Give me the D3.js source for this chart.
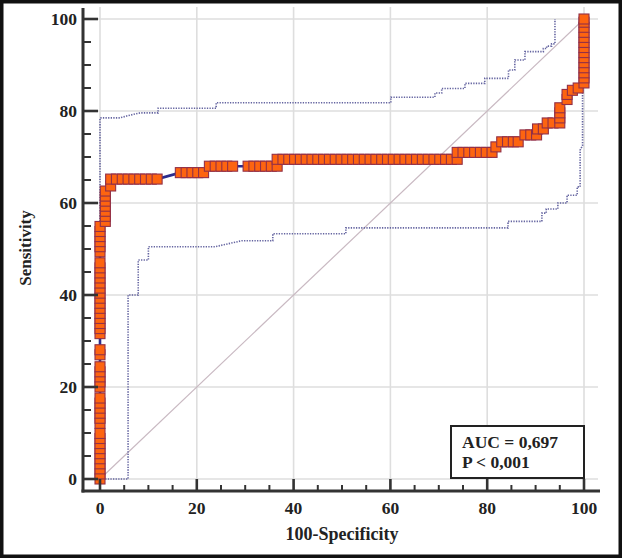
<!DOCTYPE html>
<html>
<head>
<meta charset="utf-8">
<script src="https://cdn.jsdelivr.net/npm/d3@7"></script>
<style>
  html, body { margin: 0; padding: 0; background: #fff; }
  svg { display: block; }
  text { font-family: "Liberation Serif", "Times New Roman", serif; font-weight: bold; fill: #222; }
</style>
</head>
<body>
<svg id="chart" width="622" height="558"></svg>
<script>
// ---- Data ----
const xTicks = [0, 20, 40, 60, 80, 100];
const yTicks = [0, 20, 40, 60, 80, 100];
const minorTicks = [0,5,10,15,20,25,30,35,40,45,50,55,60,65,70,75,80,85,90,95,100];

// ROC points: [100-Specificity, Sensitivity]
const rocPoints = [
  [0,0],[0,1.1],[0,2.2],[0,3.3],[0,4.4],[0,5.5],[0,6.6],[0,7.7],[0,8.8],[0,9.9],
  [0,12.1],[0,13.2],[0,14.3],[0,15.4],[0,16.5],[0,17.6],
  [0,20.0],[0,21.1],[0,22.2],[0,23.3],[0,24.4],
  [0,27.0],[0,28.1],
  [0,31.6],[0,32.7],[0,33.8],[0,34.9],[0,36.0],[0,37.1],[0,38.2],[0,39.3],[0,40.4],
  [0,41.5],[0,42.6],[0,43.7],[0,44.8],[0,45.9],[0,47.0],
  [0,49.4],[0,50.5],[0,51.6],[0,52.7],[0,53.8],[0,54.9],
  [1.1,56.0],[1.1,57.1],[1.1,58.2],[1.1,59.3],[1.1,60.4],[1.1,61.5],[1.1,62.6],
  [2.2,63.7],[2.2,65.2],[3.4,65.2],[4.6,65.2],[5.8,65.2],[7.0,65.2],[8.2,65.2],
  [9.4,65.2],[10.6,65.2],[11.8,65.2],
  [16.6,66.6],[17.8,66.6],[19.0,66.6],[20.2,66.6],[21.4,66.6],
  [22.6,68.0],[23.8,68.0],[25.0,68.0],[26.2,68.0],[27.4,68.0],
  [30.6,68.0],[31.8,68.0],[33.0,68.0],[34.2,68.0],[35.4,68.0],[36.6,68.0],
  [36.6,69.5],[37.8,69.5],[39.0,69.5],[40.2,69.5],[41.4,69.5],[42.6,69.5],[43.8,69.5],
  [45.0,69.5],[46.2,69.5],[47.4,69.5],[48.6,69.5],[49.8,69.5],[51.0,69.5],[52.2,69.5],
  [53.4,69.5],[54.6,69.5],[55.8,69.5],[57.0,69.5],[58.2,69.5],[59.4,69.5],[60.6,69.5],
  [61.8,69.5],[63.0,69.5],[64.2,69.5],[65.4,69.5],[66.6,69.5],[67.8,69.5],[69.0,69.5],
  [70.2,69.5],[71.4,69.5],[72.6,69.5],[73.8,69.5],
  [73.8,71.0],[75.0,71.0],[76.2,71.0],[77.4,71.0],[78.6,71.0],[79.8,71.0],[81.0,71.0],
  [81.8,72.2],[83.0,73.3],[84.2,73.3],[85.4,73.3],[86.4,73.3],
  [87.8,74.8],[89.0,74.8],[90.2,74.8],[90.4,76.1],[91.6,76.1],
  [92.4,77.4],[93.6,77.4],[95.0,77.4],[95.0,78.5],[95.0,79.6],[95.0,80.7],
  [96.5,82.5],[96.5,83.6],[97.6,84.5],[98.8,85.0],
  [100,86.1],[100,87.2],[100,88.3],[100,89.4],[100,90.5],[100,91.6],[100,92.7],
  [100,93.8],[100,94.9],[100,96.0],[100,97.1],[100,98.2],[100,99.3],[100,100]
];

// Upper confidence bound
const upperBand = [
  [0,0],[0,78.5],[4.1,78.5],[5.8,79.0],[8.3,79.6],[12.0,79.6],[12.0,80.6],[24.0,80.6],
  [24.0,81.8],[60.1,81.8],[60.1,83.0],[69.2,83.0],[69.2,83.9],[70.6,83.9],[70.6,84.9],
  [75.4,84.9],[75.4,86.0],[79.5,86.0],[79.5,87.1],[84.4,87.1],[84.4,88.9],[85.7,88.9],
  [85.7,91.1],[87.8,91.1],[87.8,92.9],[91.6,92.9],[91.6,93.6],[92.3,93.6],[92.3,94.1],
  [93.3,94.1],[93.3,94.6],[94.0,94.6],[94.0,100]
];

// Lower confidence bound
const lowerBand = [
  [0,0],[5.8,0],[5.8,40.0],[7.9,40.0],[7.9,47.6],[10.0,47.6],[10.0,50.5],[23.8,50.5],
  [29.3,51.8],[35.7,51.8],[35.7,53.3],[50.8,53.3],[50.8,54.6],[84.3,54.6],[84.3,56.0],
  [91.3,56.0],[91.3,57.8],[92.2,57.8],[92.2,58.7],[94.6,58.7],[94.6,60.0],[96.5,60.0],
  [96.5,61.7],[98.6,61.7],[98.6,63.5],[99.2,63.5],[99.2,71.5],[99.7,72.5],[99.7,84.0],
  [100,100]
];

const diagonal = [[0,0],[100,100]];
const statLines = ["AUC = 0,697", "P < 0,001"];
const xTitle = "100-Specificity";
const yTitle = "Sensitivity";

// ---- Drawing ----
const svg = d3.select("#chart");
const x = d3.scaleLinear().domain([0, 100]).range([100, 584]);
const y = d3.scaleLinear().domain([0, 100]).range([479, 19]);
const axisX = 83, axisY = 491;

// outer frame
svg.append("rect").attr("x", 1.75).attr("y", 1.75).attr("width", 618.5).attr("height", 554.5)
  .attr("fill", "#fff").attr("stroke", "#111").attr("stroke-width", 3.5);

// grid
const grid = svg.append("g").attr("stroke", "#dedede").attr("stroke-width", 1.6);
grid.selectAll("line.v").data(xTicks).join("line")
  .attr("x1", d => x(d)).attr("x2", d => x(d)).attr("y1", 7).attr("y2", axisY);
grid.selectAll("line.h").data(yTicks).join("line").attr("class", "h")
  .attr("x1", axisX).attr("x2", 598).attr("y1", d => y(d)).attr("y2", d => y(d));

const line = d3.line().x(d => x(d[0])).y(d => y(d[1]));

// diagonal
svg.append("path").datum(diagonal).attr("d", line)
  .attr("fill", "none").attr("stroke", "#c9b9c2").attr("stroke-width", 1.2);

// confidence bands
[upperBand, lowerBand].forEach(b => {
  svg.append("path").datum(b).attr("d", line)
    .attr("fill", "none").attr("stroke", "#6464a0").attr("stroke-width", 1.6)
    .attr("stroke-dasharray", "1.3,1.3");
});

// ROC line
svg.append("path").datum(rocPoints).attr("d", line)
  .attr("fill", "none").attr("stroke", "#2b2d8e").attr("stroke-width", 2.6);

// markers
const ms = 10;
svg.append("g").selectAll("rect").data(rocPoints).join("rect")
  .attr("x", d => x(d[0]) - ms / 2).attr("y", d => y(d[1]) - ms / 2)
  .attr("width", ms).attr("height", ms)
  .attr("fill", "#fd6410").attr("stroke", "#923048").attr("stroke-width", 1.1);

// axes
const ax = svg.append("g").attr("stroke", "#333");
ax.append("line").attr("x1", axisX).attr("x2", axisX).attr("y1", 8).attr("y2", axisY + 1.5).attr("stroke-width", 3);
ax.append("line").attr("x1", axisX - 1.5).attr("x2", 600).attr("y1", axisY).attr("y2", axisY).attr("stroke-width", 3);
// y ticks (inward)
ax.selectAll("line.ym").data(minorTicks).join("line")
  .attr("x1", axisX).attr("x2", d => axisX + (d % 20 === 0 ? 15 : 8))
  .attr("y1", d => y(d)).attr("y2", d => y(d)).attr("stroke-width", d => d % 20 === 0 ? 2.6 : 2);
// x ticks (inward)
ax.selectAll("line.xm").data(minorTicks).join("line")
  .attr("y1", axisY).attr("y2", d => axisY - (d % 20 === 0 ? 12 : 6))
  .attr("x1", d => x(d)).attr("x2", d => x(d)).attr("stroke-width", d => d % 20 === 0 ? 2.6 : 2);

// tick labels
svg.append("g").selectAll("text").data(yTicks).join("text")
  .attr("x", 77).attr("y", d => y(d) + 6).attr("text-anchor", "end")
  .attr("font-size", 17.5).text(d => d);
svg.append("g").selectAll("text").data(xTicks).join("text")
  .attr("x", d => x(d)).attr("y", 514).attr("text-anchor", "middle")
  .attr("font-size", 17.5).text(d => d);

// titles
svg.append("text").attr("x", 342).attr("y", 540).attr("text-anchor", "middle")
  .attr("font-size", 18).text(xTitle);
svg.append("text").attr("transform", "translate(31,248) rotate(-90)")
  .attr("text-anchor", "middle").attr("font-size", 17).text(yTitle);

// stats box
svg.append("rect").attr("x", 451).attr("y", 426).attr("width", 133).attr("height", 52)
  .attr("fill", "#fff").attr("stroke", "#222").attr("stroke-width", 2);
svg.append("g").selectAll("text").data(statLines).join("text")
  .attr("x", 462).attr("y", (d, i) => 448 + i * 19.5)
  .attr("font-size", 17.5).text(d => d);
</script>
</body>
</html>
